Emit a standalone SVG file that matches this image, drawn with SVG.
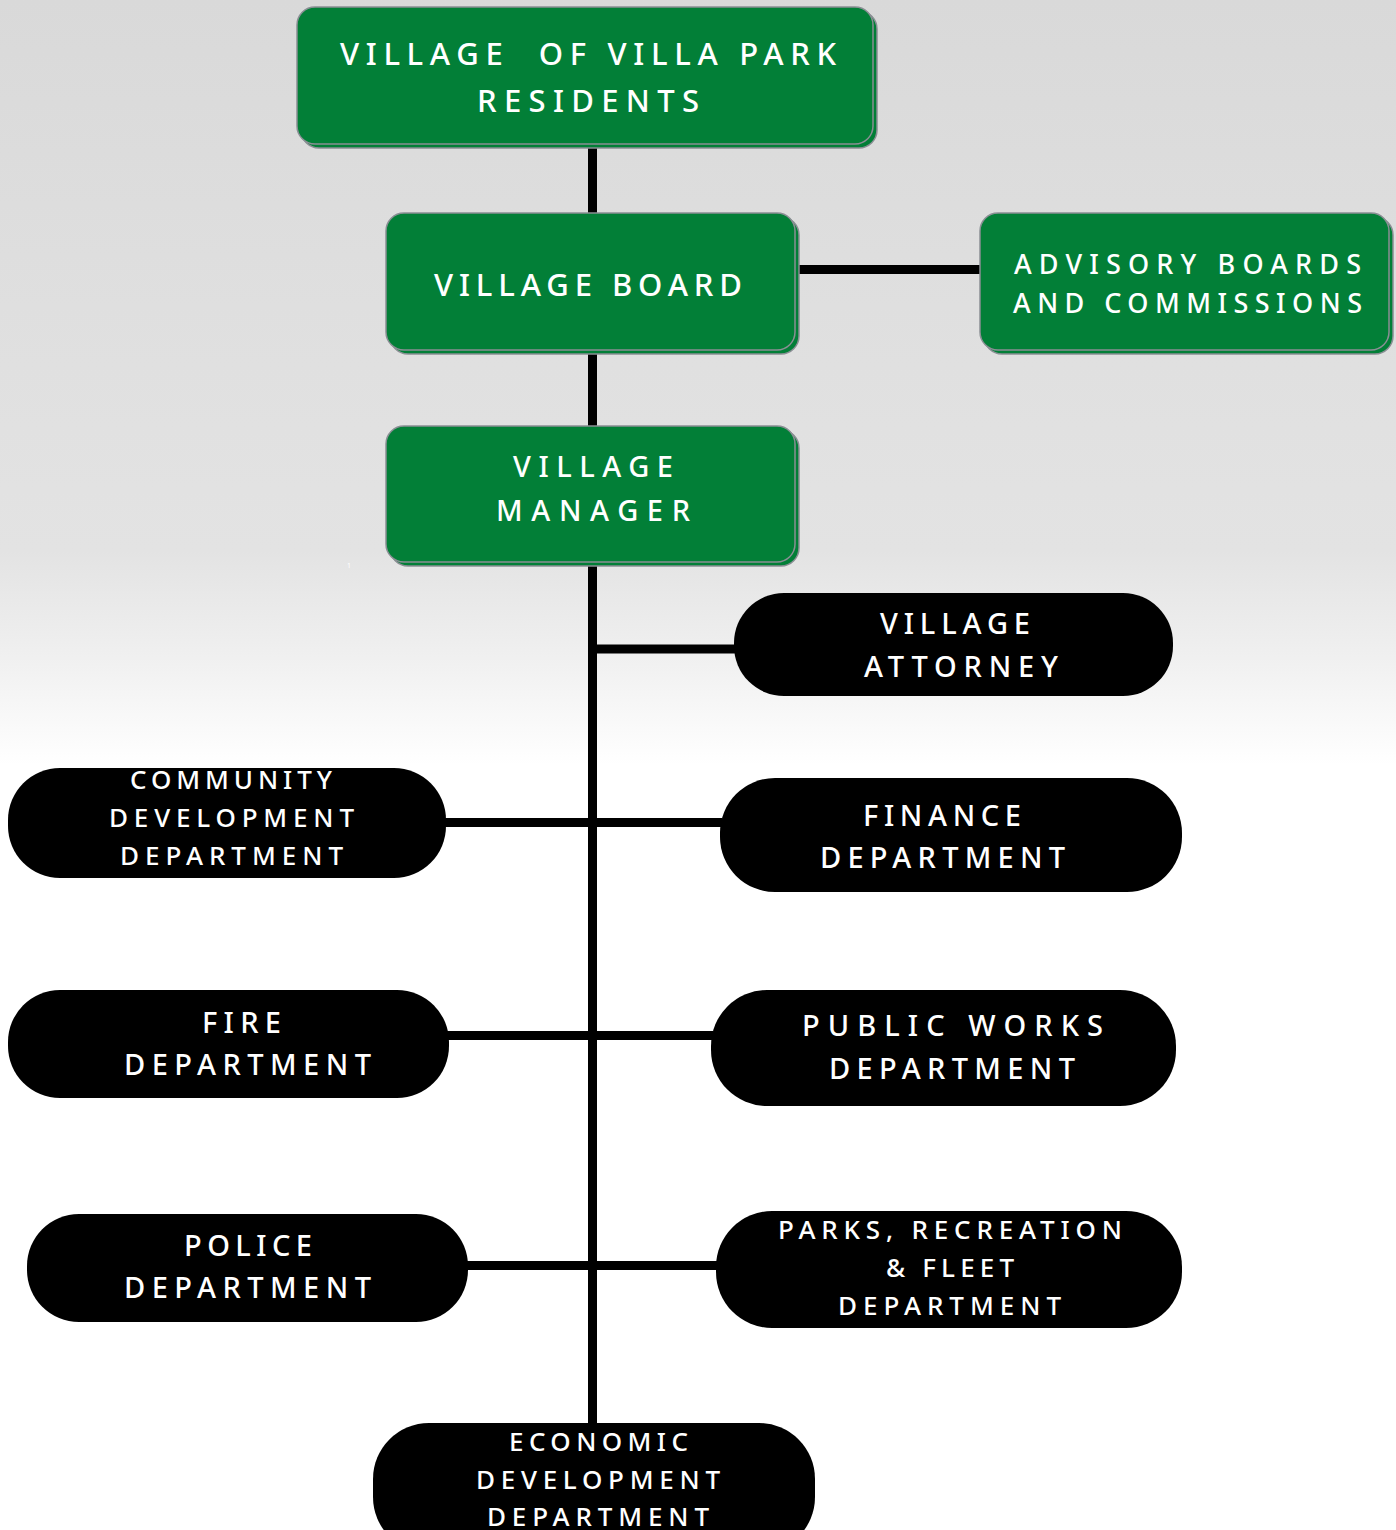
<svg xmlns="http://www.w3.org/2000/svg" width="1396" height="1530" viewBox="0 0 1396 1530">
  <defs>
    <linearGradient id="bg" x1="0" y1="0" x2="0" y2="1530" gradientUnits="userSpaceOnUse">
      <stop offset="0" stop-color="#d9d9d9"/>
      <stop offset="0.2" stop-color="#dfdfdf"/>
      <stop offset="0.36" stop-color="#e3e3e3"/>
      <stop offset="0.43" stop-color="#f0f0f0"/>
      <stop offset="0.5" stop-color="#ffffff"/>
      <stop offset="1" stop-color="#ffffff"/>
    </linearGradient>
  </defs>
  <style>
    .box { fill: #027f37; stroke: #8a8f94; stroke-width: 1.5; }
    .pill { fill: #000000; }
    .wire { stroke: #000000; stroke-width: 9; fill: none; }
    .t { font-family: "Noto Sans", "Open Sans", "Liberation Sans", sans-serif; font-weight: 500; fill: #ffffff; text-anchor: middle; white-space: pre; }
    .t30 { font-size: 31px; }
    .t28 { font-size: 29px; }
    .t26 { font-size: 27px; }
    .t25 { font-size: 26px; }
  </style>

  <rect x="0" y="0" width="1396" height="1530" fill="url(#bg)"/>

  <!-- connectors -->
  <g id="connectors">
    <line class="wire" x1="592.5" y1="146" x2="592.5" y2="1426"/>
    <line class="wire" x1="796" y1="269.5" x2="982" y2="269.5"/>
    <line class="wire" x1="592" y1="649" x2="737" y2="649"/>
    <line class="wire" x1="443" y1="822.5" x2="722" y2="822.5"/>
    <line class="wire" x1="446" y1="1035.5" x2="713" y2="1035.5"/>
    <line class="wire" x1="465" y1="1265.5" x2="718" y2="1265.5"/>
  </g>

  <!-- green governing bodies: offset backing plate + face -->
  <g id="residents">
    <rect class="box" x="301" y="11" width="576" height="137" rx="18"/>
    <rect class="box" x="297" y="7" width="576" height="137" rx="18"/>
    <text class="t t30" x="588" y="65" textLength="496" lengthAdjust="spacing">VILLAGE  OF VILLA PARK</text>
    <text class="t t30" x="588" y="112" textLength="222" lengthAdjust="spacing">RESIDENTS</text>
  </g>

  <g id="village-board">
    <rect class="box" x="390" y="217" width="409" height="137" rx="18"/>
    <rect class="box" x="386" y="213" width="409" height="137" rx="18"/>
    <text class="t t30" x="588" y="296" textLength="308" lengthAdjust="spacing">VILLAGE BOARD</text>
  </g>

  <g id="advisory-boards">
    <rect class="box" x="984" y="217" width="409" height="137" rx="18"/>
    <rect class="box" x="980" y="213" width="409" height="137" rx="18"/>
    <text class="t t26" x="1187.5" y="274" textLength="347" lengthAdjust="spacing">ADVISORY BOARDS</text>
    <text class="t t26" x="1187.5" y="313" textLength="349" lengthAdjust="spacing">AND COMMISSIONS</text>
  </g>

  <g id="village-manager">
    <rect class="box" x="390" y="430" width="409" height="136" rx="18"/>
    <rect class="box" x="386" y="426" width="409" height="136" rx="18"/>
    <text class="t t28" x="593" y="477" textLength="160" lengthAdjust="spacing">VILLAGE</text>
    <text class="t t28" x="593" y="521" textLength="194" lengthAdjust="spacing">MANAGER</text>
  </g>

  <text x="349" y="568" font-family="Noto Sans, sans-serif" font-size="7" fill="#ffffff" text-anchor="middle">1</text>

  <!-- departments -->
  <g id="village-attorney">
    <rect class="pill" x="734" y="593" width="439" height="103" rx="50"/>
    <text class="t t28" x="955" y="634" textLength="150" lengthAdjust="spacing">VILLAGE</text>
    <text class="t t28" x="961" y="677" textLength="194" lengthAdjust="spacing">ATTORNEY</text>
  </g>

  <g id="community-development">
    <rect class="pill" x="8" y="768" width="438" height="110" rx="52"/>
    <text class="t t25" x="231" y="789" textLength="202" lengthAdjust="spacing">COMMUNITY</text>
    <text class="t t25" x="231.5" y="827" textLength="245" lengthAdjust="spacing">DEVELOPMENT</text>
    <text class="t t25" x="231.5" y="865" textLength="223" lengthAdjust="spacing">DEPARTMENT</text>
  </g>

  <g id="finance">
    <rect class="pill" x="720" y="778" width="462" height="114" rx="55"/>
    <text class="t t28" x="942" y="826" textLength="158" lengthAdjust="spacing">FINANCE</text>
    <text class="t t28" x="942.5" y="868" textLength="245" lengthAdjust="spacing">DEPARTMENT</text>
  </g>

  <g id="fire">
    <rect class="pill" x="8" y="990" width="441" height="108" rx="52"/>
    <text class="t t28" x="241.5" y="1033" textLength="79" lengthAdjust="spacing">FIRE</text>
    <text class="t t28" x="247.5" y="1075" textLength="247" lengthAdjust="spacing">DEPARTMENT</text>
  </g>

  <g id="public-works">
    <rect class="pill" x="711" y="990" width="465" height="116" rx="56"/>
    <text class="t t28" x="952.5" y="1036" textLength="301" lengthAdjust="spacing">PUBLIC WORKS</text>
    <text class="t t28" x="952" y="1079" textLength="246" lengthAdjust="spacing">DEPARTMENT</text>
  </g>

  <g id="police">
    <rect class="pill" x="27" y="1214" width="441" height="108" rx="52"/>
    <text class="t t28" x="248" y="1256" textLength="128" lengthAdjust="spacing">POLICE</text>
    <text class="t t28" x="247.5" y="1298" textLength="247" lengthAdjust="spacing">DEPARTMENT</text>
  </g>

  <g id="parks-recreation-fleet">
    <rect class="pill" x="716" y="1211" width="466" height="117" rx="56"/>
    <text class="t t25" x="950" y="1239" textLength="344" lengthAdjust="spacing">PARKS, RECREATION</text>
    <text class="t t25" x="950" y="1277" textLength="128" lengthAdjust="spacing">&amp; FLEET</text>
    <text class="t t25" x="949.5" y="1315" textLength="223" lengthAdjust="spacing">DEPARTMENT</text>
  </g>

  <g id="economic-development">
    <rect class="pill" x="373" y="1423" width="442" height="130" rx="56"/>
    <text class="t t25" x="598.5" y="1451" textLength="179" lengthAdjust="spacing">ECONOMIC</text>
    <text class="t t25" x="598" y="1489" textLength="244" lengthAdjust="spacing">DEVELOPMENT</text>
    <text class="t t25" x="598" y="1526" textLength="222" lengthAdjust="spacing">DEPARTMENT</text>
  </g>
</svg>
